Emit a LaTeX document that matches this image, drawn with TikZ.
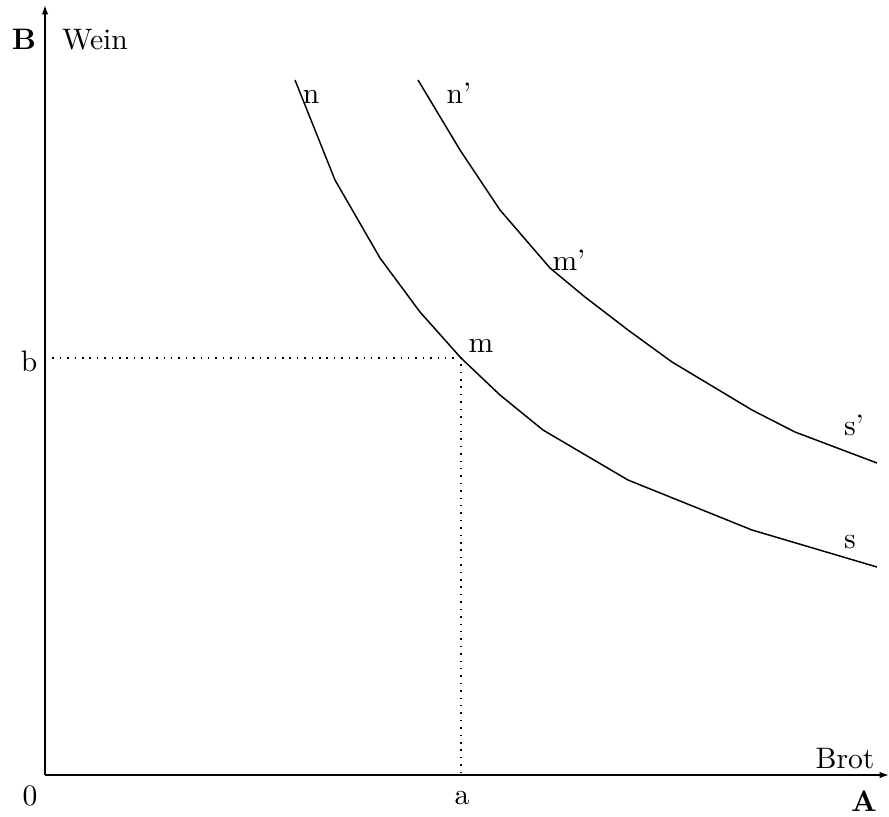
\documentclass[tikz,border=0pt]{standalone}
\usepackage{amsmath}
\usetikzlibrary{arrows.meta, positioning, calc}

\begin{document}
\begin{tikzpicture}[
  x=0.3375pt, y=-0.3375pt,
  axis/.style  = {-{Latex[length=3.2pt,width=2.2pt]}, line width=0.5pt},
  curve/.style = {line width=0.5pt, line join=round},
  guide/.style = {dotted, line width=0.5pt},
  lbl/.style   = {anchor=base, inner sep=0pt}
]
\useasboundingbox (0,0) rectangle (889,816);

\coordinate (o) at (45,775);
\coordinate (ytip) at (45,5);
\coordinate (xtip) at (889,775);
\coordinate (m) at (461,358);
\coordinate (b) at (45,358);
\coordinate (a) at (461,775);

% Achsen
\draw[axis] (o) -- (ytip);
\draw[axis] (o) -- (xtip);

% Hilfslinien
\draw[guide] (b) -- (m) -- (a);

% Kurven
\draw[curve] (295,80) -- (335,180) -- (380,258) -- (420,312) -- (m)
  -- (500,395) -- (543,430) -- (628,480) -- (752,530) -- (877,567);
\draw[curve] (418,80) -- (460,150) -- (500,210) -- (550,268) -- (585,297)
  -- (628,330) -- (672,362) -- (752,410) -- (795,432) -- (877,463);

% Beschriftungen
\node[lbl, font=\bfseries] (lB)    at (24,49)  {B};
\node[lbl]                 (lwein) at (95,49)  {Wein};
\node[lbl, font=\bfseries] (lA)    at (864,811){A};
\node[lbl]                 (lbrot) at (845,768){Brot};
\node[lbl]                 (l0)    at (30,805) {0};
\node[lbl]                 (la)    at (462,804){a};
\node[lbl]                 (lb)    at (29,371) {b};
\node[lbl]                 (ln)    at (311,103){n};
\node[lbl]                 (ln2)   at (459,103){n'};
\node[lbl]                 (lm)    at (481,352){m};
\node[lbl]                 (lm2)   at (569,270){m'};
\node[lbl]                 (ls2)   at (854,435){s'};
\node[lbl]                 (ls)    at (850,548){s};
\end{tikzpicture}
\end{document}
